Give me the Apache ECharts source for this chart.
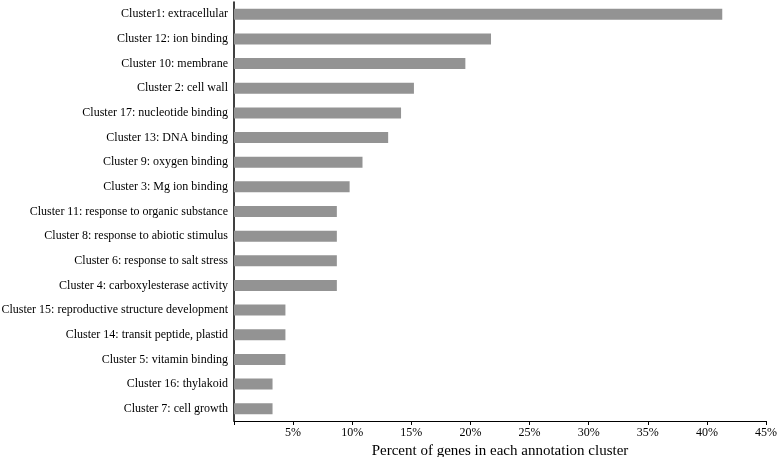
<!DOCTYPE html>
<html>
<head>
<meta charset="utf-8">
<script src="https://cdn.jsdelivr.net/npm/echarts@6/dist/echarts.min.js"></script>
<style>html,body{margin:0;padding:0;background:#fff;}#c{width:777px;height:457px;}</style>
</head>
<body>
<div id="c"></div>
<script>
const categories = [
  "Cluster1: extracellular",
  "Cluster 12: ion binding",
  "Cluster 10: membrane",
  "Cluster 2: cell wall",
  "Cluster 17: nucleotide binding",
  "Cluster 13: DNA binding",
  "Cluster 9: oxygen binding",
  "Cluster 3: Mg ion binding",
  "Cluster 11: response to organic substance",
  "Cluster 8: response to abiotic stimulus",
  "Cluster 6: response to salt stress",
  "Cluster 4: carboxylesterase activity",
  "Cluster 15: reproductive structure development",
  "Cluster 14: transit peptide, plastid",
  "Cluster 5: vitamin binding",
  "Cluster 16: thylakoid",
  "Cluster 7: cell growth"
];
const percentValues = [41.30, 21.74, 19.57, 15.22, 14.13, 13.04, 10.87, 9.78, 8.70, 8.70, 8.70, 8.70, 4.35, 4.35, 4.35, 3.26, 3.26];
const axisTitle = "Percent of genes in each annotation cluster";

const chart = echarts.init(document.getElementById('c'), null, {renderer: 'canvas'});
const font = "'Liberation Serif', 'DejaVu Serif', serif";
chart.setOption({
  animation: false,
  backgroundColor: '#fff',
  grid: {left: 234, right: 11, top: 2, bottom: 36, containLabel: false, outerBoundsMode: 'none'},
  xAxis: {
    type: 'value', min: 0, max: 45, interval: 5,
    name: axisTitle, nameLocation: 'middle', nameGap: 20,
    nameTextStyle: {fontFamily: font, fontSize: 15, color: '#000'},
    axisLine: {show: true, lineStyle: {color: '#000', width: 1}},
    axisTick: {show: true, length: 4, lineStyle: {color: '#000'}},
    axisLabel: {fontFamily: font, fontSize: 12, color: '#000', margin: 6,
      formatter: v => v === 0 ? '' : v + '%'},
    splitLine: {show: false}
  },
  yAxis: {
    type: 'category', data: categories, inverse: true,
    axisLine: {show: true, lineStyle: {color: '#000', width: 1.5}},
    axisTick: {show: false},
    axisLabel: {fontFamily: font, fontSize: 12, color: '#000', margin: 6}
  },
  series: [{
    type: 'bar', data: percentValues, barWidth: 11,
    itemStyle: {color: '#939393'}
  }]
});
</script>
</body>
</html>
